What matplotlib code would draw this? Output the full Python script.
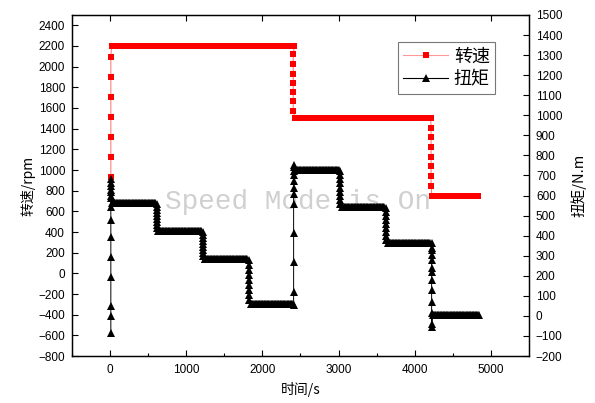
import numpy as np
import matplotlib
matplotlib.use("Agg")
import matplotlib.pyplot as plt
from matplotlib.lines import Line2D

plt.rcParams['font.family'] = ['Liberation Sans', 'Noto Sans CJK SC', 'DejaVu Sans']

# ---------------- data ----------------
# speed (rpm, left axis): flat segments
speed_seg_start = [20, 2430, 4225]
speed_seg_end = [2420, 4210, 4830]
speed_levels = [2200, 1500, 750]
# speed transition markers
speed_trans_t = [10, 2405, 4215]
speed_trans_v = [
    [929, 1123, 1316, 1509, 1702, 1896, 2089],
    [2120, 2025, 1930, 1845, 1750, 1670, 1575],
    [1410, 1320, 1225, 1130, 1040, 945, 850],
]

# torque (N.m, right axis): flat segments
torque_seg_start = [25, 630, 1240, 1850, 2450, 3050, 3650, 4240]
torque_seg_end = [600, 1200, 1800, 2400, 3000, 3600, 4200, 4840]
torque_levels = [565, 425, 285, 58, 725, 545, 362, 4]
# torque transition markers
torque_trans_t = [10, 615, 1220, 1825, 2410, 3025, 3625, 4222]
torque_trans_v = [
    [-85, -1, 49, 194, 293, 393, 478, 543, 600, 630, 660, 680, 650, 620, 590],
    [560, 545, 530, 515, 500, 485, 470, 455, 440],
    [420, 405, 390, 375, 360, 345, 330, 315, 300],
    [280, 255, 230, 205, 180, 155, 130, 105, 80],
    [54, 119, 269, 413, 558, 610, 640, 670, 700, 720, 740, 750],
    [720, 700, 680, 660, 640, 620, 600, 580, 560],
    [540, 520, 500, 480, 460, 440, 420, 400, 380],
    [363, 340, 328, 303, 278, 239, 219, 179, 129, 69, 14, -55, -40],
]

x_ticks = [0, 1000, 2000, 3000, 4000, 5000]
left_ticks = list(range(-800, 2401, 200))
right_ticks = list(range(-200, 1501, 100))


def build(seg_start, seg_end, levels, trans_t, trans_v, step=10):
    ts, vs = [], []
    for i in range(len(levels)):
        for v in trans_v[i]:
            ts.append(trans_t[i])
            vs.append(v)
        seg_t = np.arange(seg_start[i], seg_end[i] + 1, step)
        ts.extend(seg_t.tolist())
        vs.extend([levels[i]] * len(seg_t))
    return np.array(ts), np.array(vs)


speed_t, speed_v = build(speed_seg_start, speed_seg_end, speed_levels,
                         speed_trans_t, speed_trans_v)
torque_t, torque_v = build(torque_seg_start, torque_seg_end, torque_levels,
                           torque_trans_t, torque_trans_v)

# ---------------- figure ----------------
fig = plt.figure(figsize=(5.95, 4.03), dpi=100)
ax = fig.add_axes([0.121, 0.1166, 0.768, 0.8462])
ax2 = ax.twinx()

ax.text(0.501, 0.499, "Speed Mode is On", transform=fig.transFigure,
        ha='center', va='center', fontsize=20, color='#d0d0d0',
        family='Liberation Mono', zorder=0.5)

ax.plot(speed_t, speed_v, color='#ff8080', lw=0.8, marker='s', ms=5,
        mfc='red', mec='red', mew=0, zorder=2)
ax2.plot(torque_t, torque_v, color='black', lw=0.7, marker='^', ms=6,
         mfc='black', mec='black', mew=0, zorder=2)

ax.set_xlim(-500, 5500)
ax.set_ylim(-800, 2500)
ax2.set_ylim(-200, 1500)

ax.set_xticks(x_ticks)
ax.set_xticks([-500 + 1000 * i for i in range(6)], minor=True)
ax.set_yticks(left_ticks)
ax2.set_yticks(right_ticks)

ax.tick_params(axis='x', which='major', direction='in', length=4, width=0.8,
               top=True, labelsize=8.5, pad=6)
ax.tick_params(axis='x', which='minor', direction='in', length=2.5, width=0.8,
               top=False)
ax.tick_params(axis='y', direction='in', length=4, width=0.8, labelsize=8.5,
               pad=5)
ax2.tick_params(axis='y', direction='in', length=4, width=0.8, labelsize=8.5,
                pad=5)

for sp in ax.spines.values():
    sp.set_linewidth(0.9)
for sp in ax2.spines.values():
    sp.set_linewidth(0.9)

cjk = ['Noto Sans CJK SC', 'Liberation Sans']
ax.set_xlabel("时间/s", family=cjk, fontsize=10, labelpad=4)
ax.set_ylabel("转速/rpm", family=cjk, fontsize=10, labelpad=2)
ax2.set_ylabel("扭矩/N.m", family=cjk, fontsize=10.5, labelpad=6)

handles = [
    Line2D([], [], color='#ff9999', lw=0.8, marker='s', ms=5, mfc='red',
           mec='red', mew=0),
    Line2D([], [], color='black', lw=0.8, marker='^', ms=6, mfc='black',
           mec='black', mew=0),
]
leg = ax2.legend(handles, ["转速", "扭矩"], loc='upper left',
                 bbox_to_anchor=(0.713, 0.921), prop={'family': cjk, 'size': 13},
                 frameon=True, fancybox=False, edgecolor='#555555',
                 handlelength=2.5, borderpad=0.3, labelspacing=0.3,
                 handletextpad=0.3, borderaxespad=0)
leg.get_frame().set_linewidth(0.8)

fig.savefig("out.png", dpi=100)
